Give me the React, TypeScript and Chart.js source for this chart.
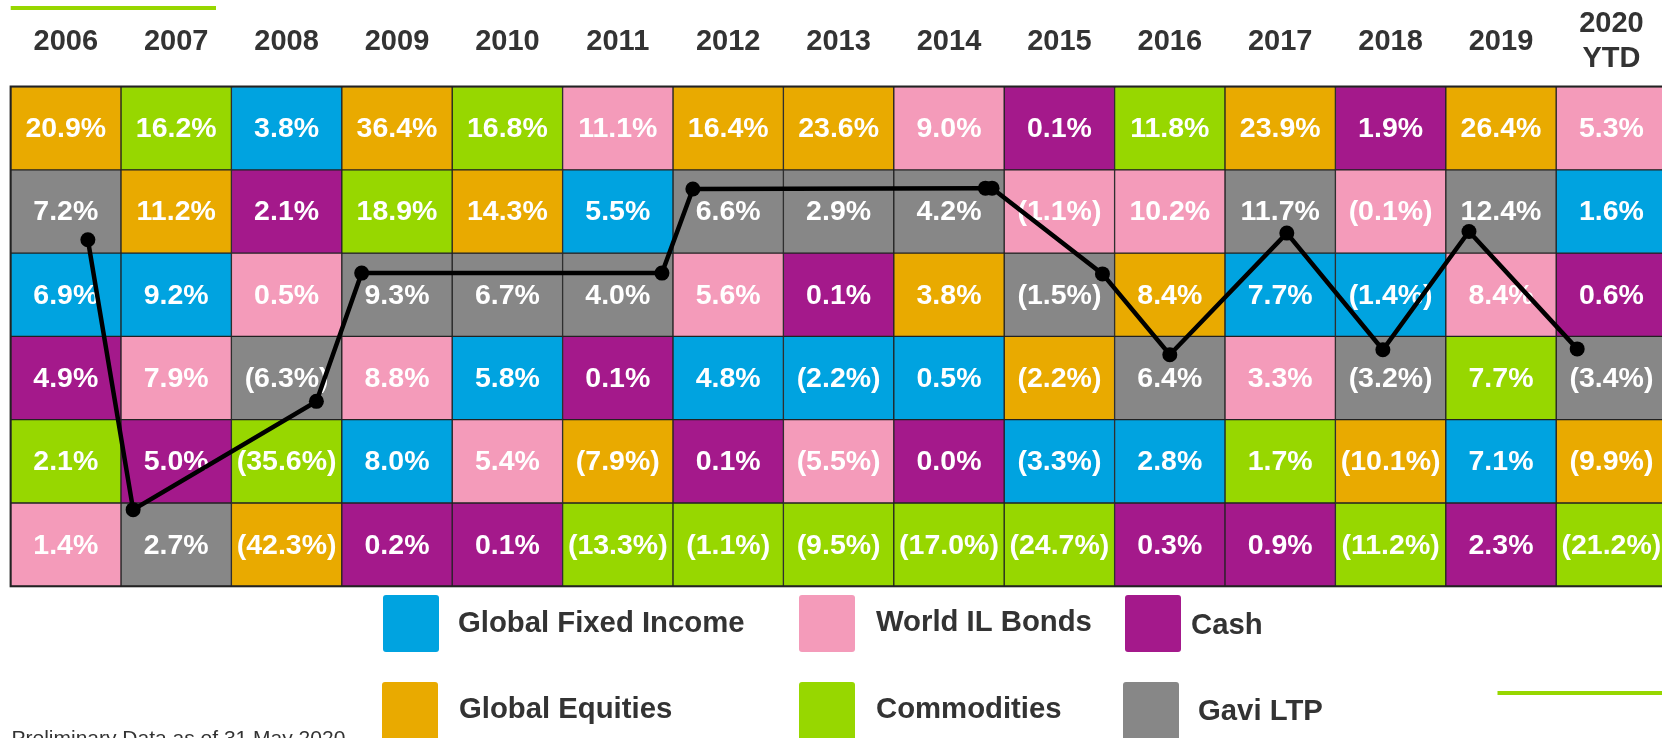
import React, { useEffect, useRef } from "react";
import { Chart, registerables } from "chart.js";

Chart.register(...registerables);

// ---------- DATA ----------
const yearLabels = ["2006", "2007", "2008", "2009", "2010", "2011", "2012", "2013", "2014", "2015", "2016", "2017", "2018", "2019", "2020\nYTD"];

const assetNames = ["Global Fixed Income", "World IL Bonds", "Cash", "Global Equities", "Commodities", "Gavi LTP"];

const globalFixedIncome = [6.9, 9.2, 3.8, 8.0, 5.8, 5.5, 4.8, -2.2, 0.5, -3.3, 2.8, 7.7, -1.4, 7.1, 1.6];
const worldILBonds = [1.4, 7.9, 0.5, 8.8, 5.4, 11.1, 5.6, -5.5, 9.0, -1.1, 10.2, 3.3, -0.1, 8.4, 5.3];
const cash = [4.9, 5.0, 2.1, 0.2, 0.1, 0.1, 0.1, 0.1, 0.0, 0.1, 0.3, 0.9, 1.9, 2.3, 0.6];
const globalEquities = [20.9, 11.2, -42.3, 36.4, 14.3, -7.9, 16.4, 23.6, 3.8, -2.2, 8.4, 23.9, -10.1, 26.4, -9.9];
const commodities = [2.1, 16.2, -35.6, 18.9, 16.8, -13.3, -1.1, -9.5, -17.0, -24.7, 11.8, 1.7, -11.2, 7.7, -21.2];
const gaviLTP = [7.2, 2.7, -6.3, 9.3, 6.7, 4.0, 6.6, 2.9, 4.2, -1.5, 6.4, 11.7, -3.2, 12.4, -3.4];

// Gavi LTP track line as drawn over the grid (grid units: column index, rank row)
const gaviTrackX = [0.70, 1.11, 2.77, 3.18, 4.5, 5.90, 6.18, 8.83, 8.89, 9.89, 10.50, 11.56, 12.43, 13.21, 14.19];
const gaviTrackY = [1.84, 5.08, 3.78, 2.24, 2.24, 2.24, 1.23, 1.22, 1.22, 2.25, 3.22, 1.76, 3.16, 1.74, 3.15];
const gaviTrackMarker = [1, 1, 1, 1, 0, 1, 1, 1, 1, 1, 1, 1, 1, 1, 1];

const footnote = "Preliminary Data as of 31 May 2020";

// ---------- STYLE ----------
const FONT = '"Liberation Sans", Arial, Helvetica, sans-serif';
const assetColors = ["#00A3E0", "#F49BBA", "#A4198B", "#E9AA00", "#97D700", "#878787"];
const TEXT_DARK = "#333333";
const LIME = "#97D700";

const assetSeries = [globalFixedIncome, worldILBonds, cash, globalEquities, commodities, gaviLTP];

function fmt(v: number) {
  return v < 0 ? `(${Math.abs(v).toFixed(1)}%)` : `${v.toFixed(1)}%`;
}

// rank within each year (0 = best)
function rankOf(assetIdx: number, yearIdx: number) {
  const vals = assetSeries.map((s, a) => ({ a, v: s[yearIdx] }));
  vals.sort((p, q) => q.v - p.v);
  return vals.findIndex((o) => o.a === assetIdx);
}

// legend layout: [boxX, boxY, boxW, boxH, textX, textY]
const legendLayout = [
  [383, 595, 56, 57, 458, 623.5],
  [799, 595, 56, 57, 876, 623],
  [1125, 595, 56, 57, 1191, 626],
  [382, 682, 56, 70, 459, 710],
  [799, 682, 56, 70, 876, 709.5],
  [1123, 682, 56, 70, 1198, 712],
];

const overlay = {
  id: "overlay",
  afterDatasetDraw(chart: any, args: any) {
    const ds = chart.data.datasets[args.index];
    if (ds.type !== "bar") return;
    const ctx = chart.ctx;
    ctx.save();
    ctx.fillStyle = "#ffffff";
    ctx.font = `bold 28.5px ${FONT}`;
    ctx.textAlign = "center";
    ctx.textBaseline = "middle";
    args.meta.data.forEach((el: any, i: number) => {
      const p = el.getProps(["x", "y", "base"], true);
      ctx.fillText(ds.valueLabels[i], p.x, (p.y + p.base) / 2 + 1);
    });
    ctx.restore();
  },
  afterDraw(chart: any) {
    const ctx = chart.ctx;
    const xs = chart.scales.x;
    const area = chart.chartArea;
    ctx.save();
    // outer grid border
    ctx.strokeStyle = "#222";
    ctx.lineWidth = 2;
    ctx.strokeRect(area.left, area.top, area.right - area.left, area.bottom - area.top);

    // header years
    ctx.fillStyle = TEXT_DARK;
    ctx.font = `bold 29px ${FONT}`;
    ctx.textAlign = "center";
    ctx.textBaseline = "middle";
    yearLabels.forEach((lab, i) => {
      const x = xs.getPixelForValue(i + 0.5);
      const lines = lab.split("\n");
      if (lines.length === 1) {
        ctx.fillText(lines[0], x, 42);
      } else {
        ctx.fillText(lines[0], x, 24);
        ctx.fillText(lines[1], x, 58.5);
      }
    });

    // decorative lime lines
    ctx.fillStyle = LIME;
    ctx.fillRect(10.7, 6, 205.3, 4);
    ctx.fillRect(1497.5, 691, 200, 4);

    // legend
    ctx.textAlign = "left";
    ctx.textBaseline = "middle";
    ctx.font = `bold 29.3px ${FONT}`;
    assetNames.forEach((name, i) => {
      const [bx, by, bw, bh, tx, ty] = legendLayout[i];
      ctx.fillStyle = assetColors[i];
      ctx.beginPath();
      (ctx as any).roundRect(bx, by, bw, bh, 3);
      ctx.fill();
      ctx.fillStyle = TEXT_DARK;
      ctx.fillText(name, tx, ty);
    });

    // footnote
    ctx.font = `21px ${FONT}`;
    ctx.textBaseline = "alphabetic";
    ctx.fillStyle = TEXT_DARK;
    ctx.fillText(footnote, 11.5, 745);
    ctx.restore();
  },
};

export default function App() {
  const canvasRef = useRef<HTMLCanvasElement | null>(null);

  useEffect(() => {
    if (!canvasRef.current) return;
    const barSets = assetNames.map((name, a) => ({
      type: "bar" as const,
      label: name,
      data: assetSeries[a].map((_, j) => {
        const r = rankOf(a, j);
        return { x: j + 0.5, y: [r, r + 1] };
      }),
      valueLabels: assetSeries[a].map(fmt),
      backgroundColor: assetColors[a],
      borderColor: "#222",
      borderWidth: 1,
      borderSkipped: false,
      grouped: false,
      barPercentage: 1,
      categoryPercentage: 1,
      order: 1,
    }));

    const lineSet = {
      type: "line" as const,
      label: "Gavi LTP track",
      data: gaviTrackX.map((x, i) => ({ x, y: gaviTrackY[i] })),
      borderColor: "#000",
      borderWidth: 4.5,
      pointRadius: gaviTrackMarker.map((m) => (m ? 7.5 : 0)),
      pointBackgroundColor: "#000",
      pointBorderWidth: 0,
      tension: 0,
      clip: false,
      order: 0,
    };

    const chart = new Chart(canvasRef.current, {
      type: "bar",
      data: { datasets: [...barSets, lineSet] as any },
      options: {
        responsive: false,
        maintainAspectRatio: false,
        devicePixelRatio: 1,
        animation: false,
        events: [],
        layout: { padding: { left: 10.6, right: 13.4, top: 86.5, bottom: 151.7 } },
        plugins: { legend: { display: false }, tooltip: { enabled: false } },
        scales: {
          x: { type: "linear", min: 0, max: 15, offset: false, display: false, ticks: { stepSize: 1 } },
          y: { type: "linear", min: 0, max: 6, reverse: true, offset: false, display: false, ticks: { stepSize: 1 } },
        },
      } as any,
      plugins: [overlay],
    });
    return () => chart.destroy();
  }, []);

  return (
    <div style={{ position: "fixed", left: 0, top: 0, width: 1662, height: 738, overflow: "hidden", background: "#fff" }}>
      <canvas ref={canvasRef} width={1680} height={738} style={{ display: "block" }} />
    </div>
  );
}
